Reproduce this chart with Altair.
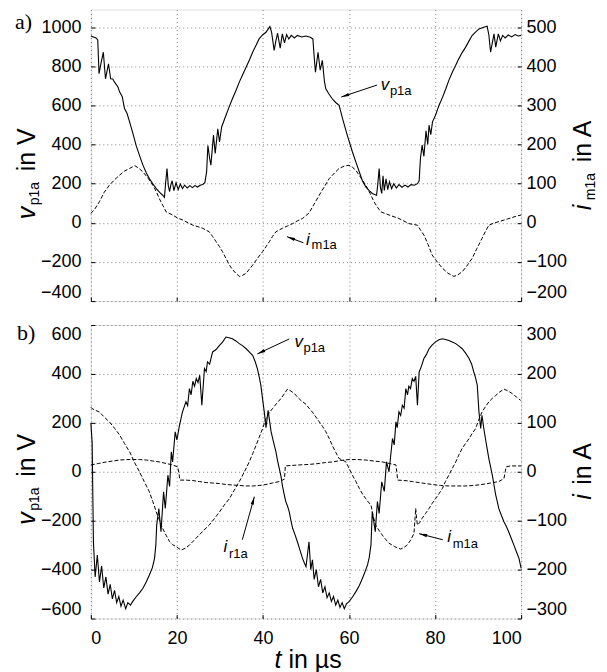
import math
import altair as alt
import pandas as pd

# ---------------- values ----------------
X_TICKS = [0, 20, 40, 60, 80, 100]
A_LEFT_TICKS = [-400, -200, 0, 200, 400, 600, 800, 1000]
A_RIGHT_TICKS = [-200, -100, 0, 100, 200, 300, 400, 500]
B_LEFT_TICKS = [-600, -400, -200, 0, 200, 400, 600]
B_RIGHT_TICKS = [-300, -200, -100, 0, 100, 200, 300]

# panel a) v_p1a in V
A_VP_T = [0.0, 1.2, 1.6, 1.9, 2.4, 2.9, 3.4, 4.1, 4.6, 5.1, 5.5, 6.3, 6.7, 7.3, 7.8, 8.4, 9.0, 9.8, 10.5, 11.3,
          12.1, 12.9, 13.6, 14.4, 15.2, 16.0, 16.7, 17.1, 17.4, 17.7, 18.0, 18.3, 18.6, 18.9, 19.3, 19.8, 20.3,
          20.8, 21.3, 21.8, 22.4, 23.0, 23.6, 24.2, 24.8, 25.4, 26.0, 26.5, 26.9, 27.2, 27.6, 27.9, 28.5, 28.9,
          29.5, 29.9, 30.4, 31.4, 32.1, 32.9, 33.7, 34.5, 35.3, 36.1, 36.9, 37.6, 38.4, 39.1, 39.9, 40.7, 41.2,
          41.6, 42.0, 42.6, 43.0, 43.4, 44.0, 44.5, 45.0, 45.5, 46.0, 46.6, 47.3, 48.0, 49.0, 50.0, 51.0, 51.6,
          51.9, 52.2, 52.8, 53.3, 53.8, 54.3, 54.6, 55.3, 56.1, 56.9, 57.7, 58.5, 59.6, 60.8, 61.6, 62.4, 63.1,
          63.9, 64.7, 65.4, 66.4, 66.7, 67.0, 67.3, 67.6, 67.9, 68.2, 68.6, 69.0, 69.4, 69.9, 70.4, 71.0, 71.6,
          72.3, 73.0, 73.7, 74.4, 75.2, 75.9, 76.3, 76.6, 77.0, 77.4, 77.9, 78.3, 78.6, 79.0, 79.4, 80.1, 80.9,
          81.7, 82.5, 83.2, 84.0, 84.8, 85.5, 86.3, 87.1, 87.9, 88.6, 89.4, 90.2, 91.3, 92.1, 92.5, 92.9, 93.3,
          93.7, 94.1, 94.7, 95.2, 95.7, 96.3, 97.0, 97.8, 98.6, 99.3, 100.0]
A_VP = [955, 945, 935, 762, 820, 872, 736, 813, 736, 735, 719, 694, 668, 645, 585, 560, 516, 455, 397, 345,
        295, 255, 226, 200, 175, 155, 141, 130, 210, 277, 190, 160, 195, 215, 165, 205, 170,
        198, 175, 193, 178, 190, 180, 190, 183, 192, 196, 205, 260, 395, 330, 295, 448, 354,
        481, 413, 490, 550, 590, 634, 675, 719, 758, 796, 835, 872, 908, 940, 960, 974, 990,
        1003, 975, 881, 930, 969, 893, 966, 920, 962, 940, 958, 945, 958, 950, 955, 948, 940,
        850, 770, 872, 780, 830, 720, 685, 660, 634, 615, 600, 532, 447, 362, 310, 260, 215,
        184, 165, 150, 141, 200, 277, 180, 150, 240, 165, 225, 170, 210, 175, 200, 178, 195,
        182, 193, 183, 195, 192, 200, 215, 330, 397, 340, 470, 400, 499, 450, 516, 550, 600,
        640, 685, 728, 770, 805, 838, 870, 898, 930, 957, 975, 991, 1000, 1005, 960, 872, 920,
        966, 898, 966, 930, 958, 945, 960, 950, 962, 955, 958]

# panel a) i_m1a in A
A_IM_T = [0.0, 0.9, 2.0, 3.1, 4.3, 5.5, 6.7, 7.8, 9.0, 10.2, 11.1, 12.1, 13.3, 14.4, 15.2, 15.9, 16.7, 17.5,
          19.0, 20.2, 21.4, 22.6, 23.7, 24.9, 26.0, 27.5, 28.3, 29.1, 29.9, 30.6, 31.4, 32.2, 32.9, 33.7, 34.5,
          35.3, 36.1, 36.8, 37.6, 38.7, 39.9, 40.7, 41.5, 42.2, 43.0, 44.5, 45.7, 46.9, 48.0, 49.2, 50.7, 51.9,
          53.1, 54.3, 55.4, 56.6, 57.7, 58.9, 60.0, 60.8, 61.6, 62.7, 63.9, 64.9, 65.8, 66.6, 67.4, 69.3, 71.6,
          73.9, 75.9, 76.6, 77.4, 78.4, 79.3, 80.5, 81.7, 83.0, 84.4, 85.3, 86.3, 87.4, 88.6, 89.7, 90.9, 91.7,
          92.5, 93.6, 94.8, 96.0, 97.2, 98.6, 100.0]
A_IM = [24, 35, 54, 78, 96, 110, 122, 132, 139, 146, 140, 130, 114, 96, 80, 62, 45, 28,
        20, 12, 7, 0, -6, -10, -14, -23, -35, -48, -61, -74, -91, -108, -119, -129, -137,
        -134, -129, -119, -108, -91, -74, -61, -48, -35, -23, -14, -8, -2, 5, 11, 25, 48,
        71, 93, 113, 127, 139, 145, 147, 142, 134, 116, 96, 75, 54, 40, 28, 20, 11,
        -2, -6, -18, -31, -56, -82, -100, -116, -129, -137, -133, -125, -110, -91, -66, -40, -22,
        -6, -1, 3, 7, 11, 16, 20]

# panel b) v_p1a in V
B_VP_T = [0.0, 0.3, 0.6, 1.0, 1.5, 2.0, 2.5, 3.0, 3.5, 4.0, 4.5, 5.0, 5.5, 6.0, 6.5, 7.0, 7.5, 8.1, 8.6, 9.2,
          9.7, 10.5, 11.3, 12.1, 12.9, 13.6, 14.3, 14.8, 15.1, 15.3, 15.8, 16.3, 16.9, 17.3, 17.9, 18.3, 18.7,
          19.0, 19.6, 20.0, 20.6, 21.3, 22.1, 22.5, 22.9, 23.3, 23.7, 24.1, 24.5, 24.9, 25.3, 25.8, 26.4, 26.8,
          27.1, 27.6, 28.3, 29.1, 29.9, 30.6, 31.4, 32.1, 32.9, 33.7, 34.5, 35.3, 36.1, 36.8, 37.6, 38.2, 38.7,
          39.1, 39.5, 39.9, 40.3, 40.7, 41.2, 41.6, 41.9, 42.4, 43.0, 43.4, 43.8, 44.2, 44.5, 44.9, 45.3, 45.7,
          46.1, 46.5, 46.9, 47.4, 48.0, 48.6, 49.2, 49.6, 50.0, 50.4, 50.7, 51.1, 51.5, 51.9, 52.4, 52.9, 53.4,
          53.9, 54.4, 54.9, 55.4, 55.9, 56.4, 56.9, 57.4, 57.9, 58.4, 58.9, 59.4, 60.0, 60.8, 61.6, 62.4, 63.1,
          63.7, 64.3, 64.7, 65.1, 65.4, 66.1, 66.6, 67.0, 67.6, 68.2, 68.7, 69.3, 70.1, 70.5, 70.9, 71.2, 71.6,
          72.0, 72.4, 72.8, 73.2, 73.6, 73.9, 74.3, 74.7, 75.1, 75.5, 75.9, 76.3, 76.8, 77.4, 78.0, 78.6, 79.3,
          80.1, 80.9, 81.7, 82.4, 83.2, 84.0, 84.8, 85.5, 86.3, 87.1, 87.9, 88.5, 89.0, 89.4, 89.8, 90.2, 90.6,
          90.9, 91.3, 91.7, 92.1, 92.5, 92.9, 93.3, 93.7, 94.1, 94.5, 94.8, 95.4, 96.0, 96.6, 97.1, 97.7, 98.3,
          98.9, 99.5, 100.0]
B_VP = [200, 120, -290, -430, -340, -450, -385, -475, -430, -500, -460, -520, -485, -535, -510, -550, -525, -560, -535, -545,
        -531, -512, -495, -476, -450, -422, -392, -354, -300, -218, -150, -245, -82, -150, -14, -60, 82,
        40, 163, 130, 190, 245, 286, 270, 340, 315, 370, 350, 381, 365, 395, 272, 422, 410,
        449, 440, 490, 500, 517, 530, 551, 548, 544, 535, 524, 515, 503, 490, 476, 450, 422,
        390, 354, 299, 245, 180, 251, 200, 163, 125, 82, 45, 13, -20, -55, -90, -122, -140,
        -163, -200, -231, -255, -286, -320, -354, -372, -388, -330, -286, -400, -360, -440, -400, -470, -440,
        -495, -470, -515, -495, -530, -510, -545, -525, -555, -535, -560, -540, -531, -512, -490, -465, -436,
        -410, -381, -350, -299, -163, -245, -122, -170, -41, -80, 41, 0, 136, 110, 204, 180, 245,
        230, 272, 260, 340, 315, 350, 340, 381, 370, 390, 272, 408, 430, 463, 480, 503, 518,
        531, 540, 544, 541, 537, 531, 524, 515, 503, 485, 463, 440, 408, 385, 354, 245, 177,
        231, 180, 136, 95, 54, 20, -14, -55, -95, -125, -150, -178, -204, -225, -245, -272, -299,
        -327, -354, -395]

# panel b) i_m1a in A
B_IM_T = [0.0, 0.3, 2.0, 3.1, 4.3, 5.5, 6.7, 7.8, 9.0, 10.1, 11.3, 12.4, 13.6, 14.4, 15.2, 16.0, 16.7, 17.5,
          18.3, 19.0, 19.8, 21.0, 22.0, 22.9, 24.0, 25.2, 26.3, 27.5, 28.7, 29.9, 31.0, 32.2, 33.3, 34.5, 35.7,
          36.8, 37.6, 38.4, 39.1, 39.9, 40.7, 41.4, 42.2, 43.2, 44.2, 45.0, 45.7, 46.5, 47.3, 48.0, 48.8, 50.0,
          50.7, 51.5, 52.3, 53.1, 53.9, 54.6, 55.4, 56.1, 56.9, 57.7, 58.5, 59.3, 60.0, 60.8, 61.6, 62.4, 63.1,
          63.9, 64.5, 65.1, 65.6, 66.2, 66.9, 67.7, 68.5, 69.3, 70.6, 72.0, 72.7, 73.5, 74.3, 75.1, 75.3, 75.5,
          75.7, 75.9, 76.4, 77.0, 77.8, 78.6, 79.3, 80.1, 80.9, 81.7, 82.4, 83.2, 84.0, 84.8, 85.5, 86.3, 87.1,
          87.9, 88.6, 89.4, 90.1, 90.9, 91.7, 92.5, 93.3, 94.1, 95.0, 96.0, 97.0, 97.9, 98.9, 99.9]
B_IM = [132, 129, 122, 112, 102, 89, 75, 58, 41, 20, 0, -20, -41, -61, -82, -100, -116, -130,
        -143, -149, -153, -160, -156, -150, -140, -129, -119, -109, -96, -82, -68, -55, -38, -20, 0,
        20, 37, 54, 70, 88, 109, 120, 129, 140, 150, 160, 169, 165, 160, 153, 146, 138,
        130, 122, 112, 102, 92, 82, 68, 54, 40, 27, 24, 20, 7, -7, -20, -34, -45,
        -55, -62, -68, -90, -109, -119, -129, -138, -146, -153, -158, -155, -150, -140, -126, -100, -75,
        -95, -109, -104, -95, -85, -75, -65, -55, -45, -34, -20, -7, 7, 20, 34, 48, 58,
        68, 78, 88, 105, 122, 133, 143, 150, 156, 163, 169, 165, 160, 153, 146]

# panel b) i_r1a in A
B_IR_T = [0.0, 1.8, 3.5, 5.1, 6.7, 8.3, 9.8, 11.3, 12.9, 14.4, 16.0, 17.5, 19.0, 20.2, 20.5, 20.7, 22.1, 23.7,
          25.2, 26.8, 28.3, 29.9, 31.4, 32.9, 34.5, 36.1, 37.6, 39.1, 40.7, 42.2, 43.8, 45.0, 45.2, 46.8, 48.4,
          50.7, 53.1, 54.6, 56.1, 58.0, 60.0, 61.9, 63.9, 65.8, 67.8, 69.4, 70.9, 71.1, 71.3, 73.0, 74.7, 77.0,
          79.4, 81.3, 83.2, 85.2, 87.1, 89.0, 90.9, 92.9, 94.8, 96.0, 96.3, 96.5, 97.5, 98.8, 100.0]
B_IR = [14, 17, 20, 22, 24, 25, 25, 25, 24, 22, 20, 17, 14, 10, -5, -17, -17, -18,
        -20, -22, -23, -24, -26, -27, -28, -29, -29, -28, -26, -23, -20, -15, 12, 13, 14,
        15, 17, 19, 20, 23, 25, 25, 24, 22, 20, 17, 14, 0, -17, -18, -20, -23,
        -26, -28, -29, -29, -29, -28, -26, -23, -20, -14, 0, 10, 12, 12, 12]

# in-plot annotations (data units of the left axis)
A_LBL_TEXT = ["v", "i"]
A_LBL_T = [67.4, 50.0]
A_LBL_V = [679, -112]
A_SUB_TEXT = ["p1a", "m1a"]
A_SUB_T = [69.5, 51.3]
A_SUB_V = [653, -132]
A_ARR_T0 = [66.5, 49.4]
A_ARR_V0 = [704, -102]
A_ARR_T1 = [58.2, 45.6]
A_ARR_V1 = [643, -71]

B_LBL_TEXT = ["v", "i", "i"]
B_LBL_T = [47.3, 30.8, 82.8]
B_LBL_V = [510, -327, -286]
B_SUB_TEXT = ["p1a", "r1a", "m1a"]
B_SUB_T = [49.4, 32.1, 84.1]
B_SUB_V = [490, -351, -310]
B_ARR_T0 = [46.1, 35.2, 81.8]
B_ARR_V0 = [543, -278, -278]
B_ARR_T1 = [38.7, 38.0, 76.3]
B_ARR_V1 = [482, -102, -253]

# ---------------- layout / style ----------------
FONT = "Liberation Sans"
SERIF = "Liberation Serif"
W = 431
H_A, H_B = 292, 294
DOM_X = [0, 100]
DOM_A_L, DOM_A_R = [-400, 1090], [-200, 545]
DOM_B_L, DOM_B_R = [-600, 600], [-300, 300]
INWARD = alt.ExprRef(expr="-4")
GRID = dict(gridColor="#808080", gridDash=[1, 3], gridWidth=1)
LBL = dict(labelFont=FONT, labelFontSize=18, labelColor="black", labelFlush=True, format="d")
ARROW = "M0,-1L0.42,1L-0.42,1Z"
ONE = pd.DataFrame({"k": [0]})
TS, SS = 25, 14   # title font size, title subscript size


def heads(t0s, v0s, t1s, v1s, dom, H, back=4.0):
    kx = W / (DOM_X[1] - DOM_X[0])
    ky = H / (dom[1] - dom[0])
    rows = []
    for t0, v0, t1, v1 in zip(t0s, v0s, t1s, v1s):
        dx = (t1 - t0) * kx
        dy = -(v1 - v0) * ky
        L = math.hypot(dx, dy)
        ux, uy = dx / L, dy / L
        ang = math.degrees(math.atan2(ux, -uy)) % 360
        rows.append({"t": t1 - ux * back / kx, "v": v1 + uy * back / ky, "ang": ang})
    return pd.DataFrame(rows)


def text_piece(x, y, text, size, italic=False, angle=0, dx=0, dy=0, font=FONT):
    kw = dict(align="left", baseline="alphabetic", font=font, fontSize=size, color="black", text=text)
    if italic:
        kw["fontStyle"] = "italic"
    if angle:
        kw["angle"] = angle
    if dx:
        kw["dx"] = dx
    if dy:
        kw["dy"] = dy
    return alt.Chart(ONE).mark_text(**kw).encode(x=alt.value(x), y=alt.value(y))


def panel(H, dom_l, dom_r, lt, rt, vt, vv, iseries, lbl, sub, arr, tag, tag_xy,
          ltitle_xy, rtitle_xy, rsub, show_x):
    sx = alt.Scale(domain=DOM_X, nice=False, zero=False)
    sl = alt.Scale(domain=dom_l, nice=False, zero=False)
    sr = alt.Scale(domain=dom_r, nice=False, zero=False)
    xa = alt.X("t:Q", scale=sx, title=None,
               axis=alt.Axis(values=X_TICKS, domain=False, ticks=True, tickSize=INWARD, tickColor="black",
                             grid=True, labels=show_x, labelPadding=15, **GRID, **LBL))
    yl = alt.Y("v:Q", scale=sl, title=None,
               axis=alt.Axis(orient="left", values=lt, domain=False, tickSize=INWARD, tickColor="black",
                             grid=True, labelPadding=14, **GRID, **LBL))
    yr = alt.Y("i:Q", scale=sr, title=None,
               axis=alt.Axis(orient="right", values=rt, grid=False, domain=False, tickSize=INWARD,
                             tickColor="black", labelPadding=9, **LBL))

    vline = alt.Chart(pd.DataFrame({"t": vt, "v": vv})).mark_line(
        color="black", strokeWidth=1.1).encode(x=xa, y=yl)

    lbl_df = pd.DataFrame({"t": lbl[1], "v": lbl[2], "s": lbl[0]})
    sub_df = pd.DataFrame({"t": sub[1], "v": sub[2], "s": sub[0]})
    base_txt = alt.Chart(lbl_df).mark_text(
        align="left", baseline="alphabetic", font=FONT, fontSize=17, fontStyle="italic", color="black"
    ).encode(x=xa, y=yl, text="s:N")
    sub_txt = alt.Chart(sub_df).mark_text(
        align="left", baseline="alphabetic", font=FONT, fontSize=13, color="black"
    ).encode(x=xa, y=yl, text="s:N")
    arr_df = pd.DataFrame({"t": arr[0], "v": arr[1], "t2": arr[2], "v2": arr[3]})
    rules = alt.Chart(arr_df).mark_rule(color="black", strokeWidth=1).encode(
        x=xa, y=yl, x2="t2:Q", y2="v2:Q")
    hd = alt.Chart(heads(arr[0], arr[1], arr[2], arr[3], dom_l, H)).mark_point(
        shape=ARROW, filled=True, color="black", size=64, opacity=1, strokeWidth=0
    ).encode(x=xa, y=yl, angle=alt.Angle("ang:Q", scale=None))

    extra = [text_piece(tag_xy[0], tag_xy[1], tag, 22, font=SERIF)]
    # left rotated title  v_p1a in V
    lx, ly = ltitle_xy
    extra += [text_piece(lx, ly, "v", TS, italic=True, angle=270),
              text_piece(lx, ly, "p1a", SS, angle=270, dx=14, dy=4),
              text_piece(lx, ly, "in V", TS, angle=270, dx=48)]
    # right rotated title
    rx, ry = rtitle_xy
    if rsub:
        extra += [text_piece(rx, ry, "i", TS, italic=True, angle=270),
                  text_piece(rx, ry, rsub, SS, angle=270, dx=10, dy=4),
                  text_piece(rx, ry, "in A", TS, angle=270, dx=48)]
    else:
        extra += [text_piece(rx, ry, "i", TS, italic=True, angle=270),
                  text_piece(rx, ry, "in A", TS, angle=270, dx=15)]
    if show_x:
        extra += [text_piece(184, 344, "t", TS, italic=True),
                  text_piece(184, 344, "in \u00b5s", TS, dx=14)]

    left = alt.layer(vline, rules, hd, base_txt, sub_txt, *extra)

    ilayers = []
    for it, iv in iseries:
        ilayers.append(alt.Chart(pd.DataFrame({"t": it, "i": iv})).mark_line(
            color="black", strokeWidth=1, strokeDash=[4, 2]).encode(x=xa, y=yr))
    right = alt.layer(*ilayers)
    return alt.layer(left, right).resolve_scale(y="independent").properties(width=W, height=H)


pa = panel(H_A, DOM_A_L, DOM_A_R, A_LEFT_TICKS, A_RIGHT_TICKS, A_VP_T, A_VP,
           [(A_IM_T, A_IM)],
           (A_LBL_TEXT, A_LBL_T, A_LBL_V), (A_SUB_TEXT, A_SUB_T, A_SUB_V),
           (A_ARR_T0, A_ARR_V0, A_ARR_T1, A_ARR_V1),
           "a)", (-76, 19), (-56, 210), (501, 201), "m1a", False)
pb = panel(H_B, DOM_B_L, DOM_B_R, B_LEFT_TICKS, B_RIGHT_TICKS, B_VP_T, B_VP,
           [(B_IM_T, B_IM), (B_IR_T, B_IR)],
           (B_LBL_TEXT, B_LBL_T, B_LBL_V), (B_SUB_TEXT, B_SUB_T, B_SUB_V),
           (B_ARR_T0, B_ARR_V0, B_ARR_T1, B_ARR_V1),
           "b)", (-74, 15), (-56, 200), (501, 175), None, True)

chart = alt.vconcat(pa, pb, spacing=19).properties(
    padding={"left": 6, "top": 0, "right": 0, "bottom": 0}
).configure_view(stroke="black", strokeWidth=1.5).configure(background="white")

chart.save("out.html", embed_options={"renderer": "svg", "actions": False})
